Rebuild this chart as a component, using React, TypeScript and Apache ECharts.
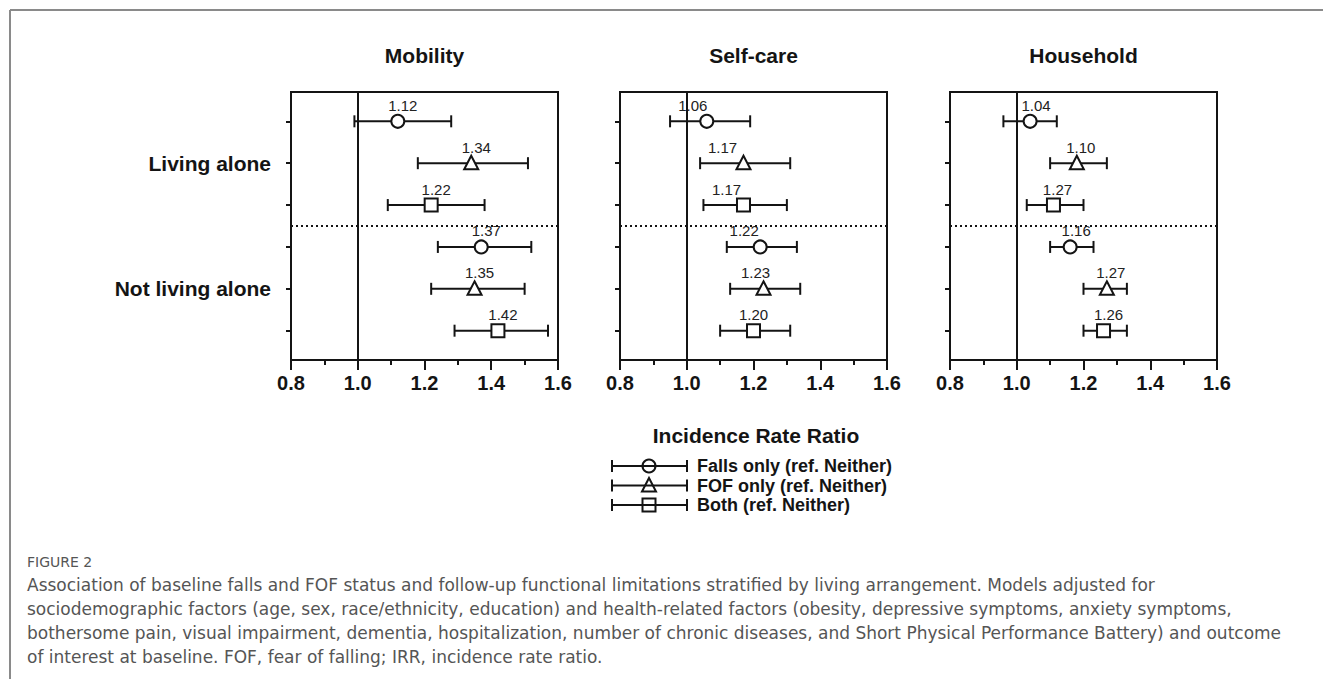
import React, { useEffect, useRef } from "react";
import * as echarts from "echarts";

// ---------- data ----------
const panelTitles = ["Mobility", "Self-care", "Household"];
const rowGroupLabels = ["Living alone", "Not living alone"];
const rowGroupAt = [1, 4];
const rows = [0, 1, 2, 3, 4, 5];
// shape per row: 0 circle (Falls only), 1 triangle (FOF only), 2 square (Both)
const rowShapes = [0, 1, 2, 0, 1, 2];
const legendNames = ["Falls only (ref. Neither)", "FOF only (ref. Neither)", "Both (ref. Neither)"];
const xTicks = [0.8, 1.0, 1.2, 1.4, 1.6];
const legendTitle = "Incidence Rate Ratio";

const mobilityEst = [1.12, 1.34, 1.22, 1.37, 1.35, 1.42];
const mobilityLow = [0.99, 1.18, 1.09, 1.24, 1.22, 1.29];
const mobilityHigh = [1.28, 1.51, 1.38, 1.52, 1.5, 1.57];
const mobilityText = ["1.12", "1.34", "1.22", "1.37", "1.35", "1.42"];

const selfCareEst = [1.06, 1.17, 1.17, 1.22, 1.23, 1.2];
const selfCareLow = [0.95, 1.04, 1.05, 1.12, 1.13, 1.1];
const selfCareHigh = [1.19, 1.31, 1.3, 1.33, 1.34, 1.31];
const selfCareText = ["1.06", "1.17", "1.17", "1.22", "1.23", "1.20"];

const householdEst = [1.04, 1.18, 1.11, 1.16, 1.27, 1.26];
const householdLow = [0.96, 1.1, 1.03, 1.1, 1.2, 1.2];
const householdHigh = [1.12, 1.27, 1.2, 1.23, 1.33, 1.33];
const householdText = ["1.04", "1.10", "1.27", "1.16", "1.27", "1.26"];

const captionHead = "FIGURE 2";
const captionLines = [
  "Association of baseline falls and FOF status and follow-up functional limitations stratified by living arrangement. Models adjusted for",
  "sociodemographic factors (age, sex, race/ethnicity, education) and health-related factors (obesity, depressive symptoms, anxiety symptoms,",
  "bothersome pain, visual impairment, dementia, hospitalization, number of chronic diseases, and Short Physical Performance Battery) and outcome",
  "of interest at baseline. FOF, fear of falling; IRR, incidence rate ratio.",
];

// ---------- layout / style ----------
const panels = [
  { est: mobilityEst, low: mobilityLow, high: mobilityHigh, text: mobilityText, left: 291, labelDx: [5, 5, 5, 5, 5, 5] },
  { est: selfCareEst, low: selfCareLow, high: selfCareHigh, text: selfCareText, left: 620, labelDx: [-14, -21, -17, -16, -8, 0] },
  { est: householdEst, low: householdLow, high: householdHigh, text: householdText, left: 950, labelDx: [6, 4, 4, 6, 4, 5] },
];
const GRID_TOP = 92;
const GRID_W = 267;
const GRID_H = 268;
const INK = "#141414";
const FONT = "'Liberation Sans', Arial, sans-serif";
const CAPTION_FONT = "'DejaVu Sans', sans-serif";
const LEG_Y0 = 466;
const LEG_STEP = 19.5;

function markerShape(shape: number, cx: number, cy: number, style: any) {
  if (shape === 0) return { type: "circle", shape: { cx, cy, r: 6.5 }, style };
  if (shape === 1)
    return {
      type: "polygon",
      shape: { points: [[cx, cy - 7.5], [cx + 7, cy + 6], [cx - 7, cy + 6]] },
      style,
    };
  return { type: "rect", shape: { x: cx - 6.5, y: cy - 6.5, width: 13, height: 13 }, style };
}

export default function App() {
  const ref = useRef<HTMLDivElement>(null);
  useEffect(() => {
    if (!ref.current) return;
    const chart = echarts.init(ref.current, undefined, { renderer: "svg" });

    const grids: any[] = [];
    const xAxes: any[] = [];
    const yAxes: any[] = [];
    const series: any[] = [];
    const graphics: any[] = [];

    panels.forEach((p, i) => {
      grids.push({
        left: p.left,
        top: GRID_TOP,
        width: GRID_W,
        height: GRID_H,
        show: true,
        borderColor: INK,
        borderWidth: 2,
        backgroundColor: "transparent",
      });
      xAxes.push({
        gridIndex: i,
        type: "value",
        min: xTicks[0],
        max: xTicks[xTicks.length - 1],
        interval: 0.2,
        axisLine: { show: true, onZero: false, lineStyle: { color: INK, width: 2 } },
        axisTick: { show: true, length: 10, lineStyle: { color: INK, width: 2 } },
        minorTick: { show: true, splitNumber: 2, length: 5, lineStyle: { color: INK, width: 2 } },
        splitLine: { show: false },
        axisLabel: {
          formatter: (v: number) => v.toFixed(1),
          fontFamily: FONT,
          fontWeight: "bold",
          fontSize: 20,
          color: INK,
          margin: 13,
        },
      });
      yAxes.push({
        gridIndex: i,
        type: "value",
        min: -0.7,
        max: 5.7,
        inverse: true,
        axisLine: { show: true, onZero: false, lineStyle: { color: INK, width: 2 } },
        axisTick: { show: true, customValues: rows, length: 5, lineStyle: { color: INK, width: 2 } },
        splitLine: { show: false },
        axisLabel: {
          show: i === 0,
          customValues: rowGroupAt,
          formatter: (v: number) => rowGroupLabels[rowGroupAt.indexOf(Math.round(v))] || "",
          fontFamily: FONT,
          fontWeight: "bold",
          fontSize: 21,
          color: INK,
          margin: 20,
        },
      });

      const data = rows.map((r, k) => [r, p.low[k], p.est[k], p.high[k], rowShapes[k]]);
      series.push({
        type: "custom",
        xAxisIndex: i,
        yAxisIndex: i,
        data,
        encode: { x: [1, 2, 3], y: 0 },
        renderItem: (params: any, api: any) => {
          const row = api.value(0);
          const lo = api.coord([api.value(1), row]);
          const es = api.coord([api.value(2), row]);
          const hi = api.coord([api.value(3), row]);
          const shape = api.value(4);
          const ls = { stroke: INK, lineWidth: 2 };
          const idx = params.dataIndex;
          return {
            type: "group",
            children: [
              { type: "line", shape: { x1: lo[0], y1: lo[1], x2: hi[0], y2: hi[1] }, style: ls },
              { type: "line", shape: { x1: lo[0], y1: lo[1] - 6, x2: lo[0], y2: lo[1] + 6 }, style: ls },
              { type: "line", shape: { x1: hi[0], y1: hi[1] - 6, x2: hi[0], y2: hi[1] + 6 }, style: ls },
              markerShape(shape, es[0], es[1], { fill: "#fff", stroke: INK, lineWidth: 2 }),
              {
                type: "text",
                x: es[0] + p.labelDx[idx],
                y: es[1] - 16,
                style: {
                  text: p.text[idx],
                  fill: "#222",
                  font: `15px ${FONT}`,
                  align: "center",
                  verticalAlign: "middle",
                },
              },
            ],
          };
        },
        markLine: {
          silent: true,
          symbol: "none",
          label: { show: false },
          animation: false,
          data: [
            { xAxis: 1.0, lineStyle: { color: INK, width: 2, type: "solid" } },
            { yAxis: 2.5, lineStyle: { color: INK, width: 2, type: [2, 3] } },
          ],
        },
        z: 3,
      });

      graphics.push({
        type: "text",
        x: p.left + GRID_W / 2,
        y: 55,
        style: {
          text: panelTitles[i],
          font: `bold 21px ${FONT}`,
          fill: INK,
          align: "center",
          verticalAlign: "middle",
        },
      });
    });

    // legend
    graphics.push({
      type: "text",
      x: 756,
      y: 435,
      style: { text: legendTitle, font: `bold 21px ${FONT}`, fill: INK, align: "center", verticalAlign: "middle" },
    });
    legendNames.forEach((name, k) => {
      const y = LEG_Y0 + k * LEG_STEP;
      const ls = { stroke: INK, lineWidth: 2 };
      graphics.push({ type: "line", shape: { x1: 612, y1: y, x2: 687, y2: y }, style: ls });
      graphics.push({ type: "line", shape: { x1: 612, y1: y - 6, x2: 612, y2: y + 6 }, style: ls });
      graphics.push({ type: "line", shape: { x1: 687, y1: y - 6, x2: 687, y2: y + 6 }, style: ls });
      graphics.push(markerShape(k, 649, y, { fill: "transparent", stroke: INK, lineWidth: 2 }));
      graphics.push({
        type: "text",
        x: 697,
        y,
        style: {
          text: name,
          font: `bold 18px ${FONT}`,
          fill: INK,
          align: "left",
          verticalAlign: "middle",
        },
      });
    });

    // frame
    graphics.push({ type: "line", shape: { x1: 10, y1: 10, x2: 1323, y2: 10 }, style: { stroke: "#8a8a8a", lineWidth: 2 } });
    graphics.push({ type: "line", shape: { x1: 10, y1: 10, x2: 10, y2: 679 }, style: { stroke: "#8a8a8a", lineWidth: 2 } });

    // caption
    graphics.push({
      type: "text",
      x: 27,
      y: 562,
      style: { text: captionHead, font: `14px ${CAPTION_FONT}`, fill: "#555", verticalAlign: "middle" },
    });
    captionLines.forEach((line, k) => {
      graphics.push({
        type: "text",
        x: 27,
        y: 585 + k * 24,
        style: { text: line, font: `17px ${CAPTION_FONT}`, fill: "#555", verticalAlign: "middle" },
      });
    });

    chart.setOption({
      animation: false,
      backgroundColor: "#fff",
      grid: grids,
      xAxis: xAxes,
      yAxis: yAxes,
      series,
      graphic: graphics,
    });
    return () => chart.dispose();
  }, []);
  return <div ref={ref} style={{ position: "fixed", left: 0, top: 0, width: 1323, height: 679 }} />;
}
